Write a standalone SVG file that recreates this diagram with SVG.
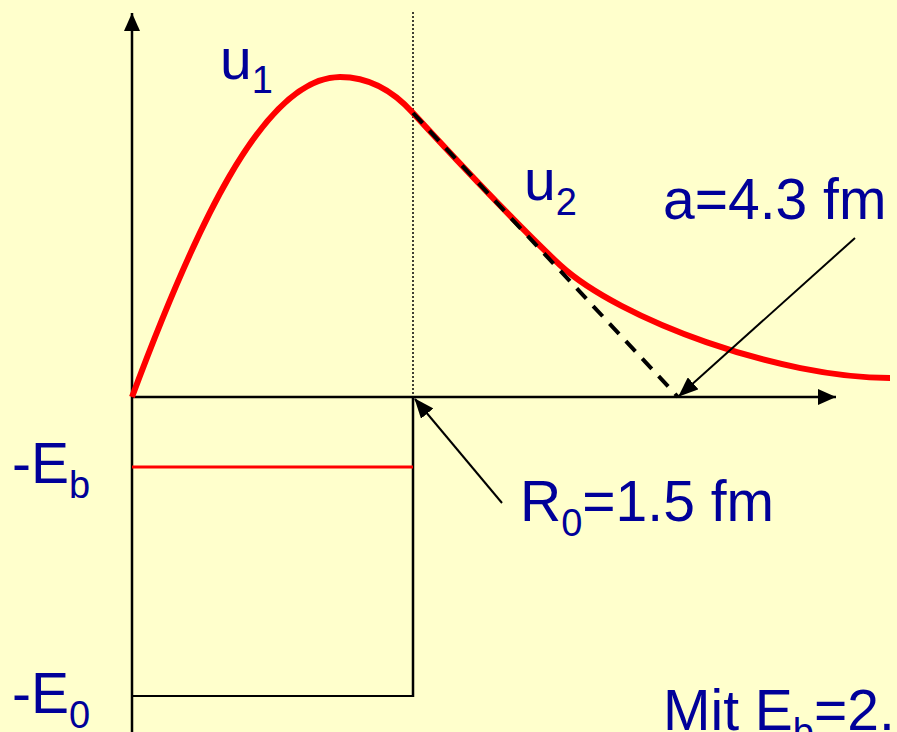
<svg xmlns="http://www.w3.org/2000/svg" width="897" height="732" viewBox="0 0 897 732">
<style>
.lbl{font-family:"Liberation Sans",Arial,sans-serif;fill:#000099;font-size:57px}
.sub{font-size:38px}
.ax{stroke:#000;stroke-width:2.5;fill:none}
.thin{stroke:#000;stroke-width:2;fill:none}
</style>
<defs>
<marker id="ah" markerWidth="18" markerHeight="16" refX="18" refY="8" orient="auto" markerUnits="userSpaceOnUse">
<path d="M0,0 L18,8 L0,16 Z" fill="#000"/>
</marker>
<marker id="ah2" markerWidth="20" markerHeight="16" refX="19" refY="8" orient="auto" markerUnits="userSpaceOnUse">
<path d="M0,0 L20,8 L0,16 Z" fill="#000"/>
</marker>
</defs>
<rect width="897" height="732" fill="#FFFFCC"/>
<g id="axes">
<line class="ax" x1="132" y1="732" x2="132" y2="13" marker-end="url(#ah)"/>
<line class="ax" x1="132" y1="397" x2="836" y2="397" marker-end="url(#ah)"/>
<line x1="413" y1="12" x2="413" y2="397" stroke="#000" stroke-width="1.5" stroke-dasharray="2,2"/>
</g>
<g id="well">
<line class="ax" x1="413" y1="397" x2="413" y2="697"/>
<line class="thin" x1="132" y1="696" x2="413" y2="696"/>
<line x1="132" y1="467" x2="413" y2="467" stroke="#FF0000" stroke-width="3"/>
</g>
<g id="curve">
<path d="M132,397 C192,236 262,77 340,77 C372,77 395,93 413,113 C460,164 510,218 560,265 C620,320 780,378 890,378" fill="none" stroke="#FF0000" stroke-width="6"/>
<line x1="413" y1="113" x2="678" y2="397" stroke="#000" stroke-width="4" stroke-dasharray="14,10"/>
</g>
<g id="connectors">
<line class="thin" x1="855" y1="238" x2="679" y2="396" marker-end="url(#ah2)"/>
<line class="thin" x1="502" y1="503" x2="415" y2="399" marker-end="url(#ah2)"/>
</g>
<g id="labels">
<text class="lbl" x="220" y="79">u<tspan class="sub" dy="14">1</tspan></text>
<text class="lbl" x="524" y="200">u<tspan class="sub" dy="15">2</tspan></text>
<text class="lbl" x="663" y="219">a=4.3 fm</text>
<text class="lbl" x="520" y="521">R<tspan class="sub" dy="15">0</tspan><tspan dy="-15">=1.5 fm</tspan></text>
<text class="lbl" x="12" y="483">-E<tspan class="sub" dy="15">b</tspan></text>
<text class="lbl" x="12" y="713">-E<tspan class="sub" dy="15">0</tspan></text>
<text class="lbl" x="663" y="730">Mit E<tspan class="sub" dy="15">b</tspan><tspan dy="-15">=2.</tspan></text>
</g>
</svg>
